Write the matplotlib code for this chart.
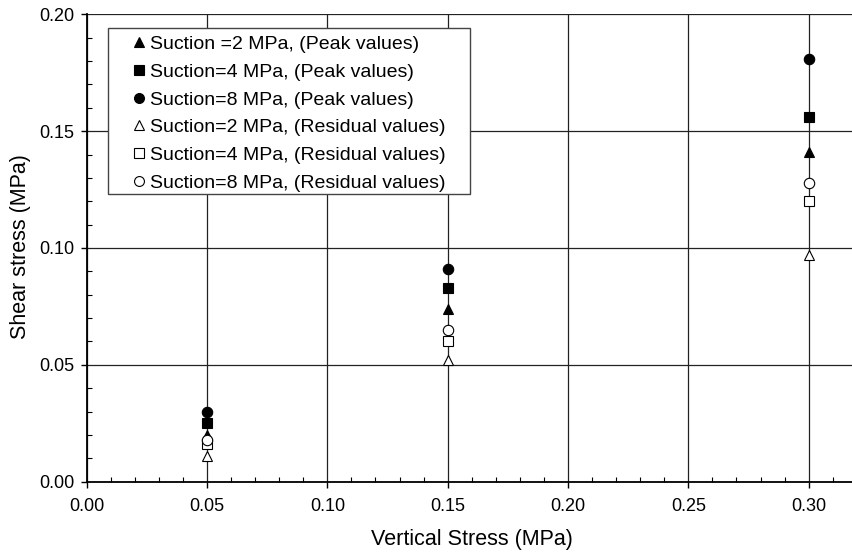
import matplotlib
matplotlib.use("Agg")
import matplotlib.pyplot as plt
from matplotlib.ticker import MultipleLocator, FormatStrFormatter
from matplotlib.patches import Rectangle

plt.rcParams['font.family'] = ['Liberation Sans', 'DejaVu Sans']

vertical_stress = [0.05, 0.15, 0.30]
peak_s2 = [0.020, 0.074, 0.141]
peak_s4 = [0.025, 0.083, 0.156]
peak_s8 = [0.030, 0.091, 0.181]
res_s2 = [0.011, 0.052, 0.097]
res_s4 = [0.016, 0.060, 0.120]
res_s8 = [0.018, 0.065, 0.128]

labels = [
    "Suction =2 MPa, (Peak values)",
    "Suction=4 MPa, (Peak values)",
    "Suction=8 MPa, (Peak values)",
    "Suction=2 MPa, (Residual values)",
    "Suction=4 MPa, (Residual values)",
    "Suction=8 MPa, (Residual values)",
]

W, H = 852, 554
fig = plt.figure(figsize=(W/100, H/100), dpi=100)
ax = fig.add_axes([86.7/W, 1-481.7/H, 1-86.7/W, (481.7-14.3)/H])

ax.set_xlim(0, 0.318)
ax.set_ylim(0, 0.20)

ax.grid(True, which='major', color='#222222', linewidth=0.9)
ax.set_axisbelow(True)

ms = 7.5
series = [
    (peak_s2, '^', 'black'),
    (peak_s4, 's', 'black'),
    (peak_s8, 'o', 'black'),
    (res_s2, '^', 'white'),
    (res_s4, 's', 'white'),
    (res_s8, 'o', 'white'),
]
for (vals, mk, fc), lab in zip(series, labels):
    ax.plot(vertical_stress, vals, linestyle='none', marker=mk, markersize=ms,
            markerfacecolor=fc, markeredgecolor='black', markeredgewidth=0.8,
            label=lab, zorder=3)

ax.xaxis.set_major_locator(MultipleLocator(0.05))
ax.xaxis.set_minor_locator(MultipleLocator(0.01))
ax.yaxis.set_major_locator(MultipleLocator(0.05))
ax.yaxis.set_minor_locator(MultipleLocator(0.01))
ax.xaxis.set_major_formatter(FormatStrFormatter('%.2f'))
ax.yaxis.set_major_formatter(FormatStrFormatter('%.2f'))

ax.tick_params(which='major', direction='out', length=4, width=1, labelsize=13, color='black')
ax.tick_params(axis='x', which='major', pad=8)
ax.tick_params(axis='y', which='major', pad=5)
ax.tick_params(which='minor', direction='in', length=3.5, width=0.8, color='black')

for s in ['top', 'right']:
    ax.spines[s].set_visible(False)
for s in ['left', 'bottom']:
    ax.spines[s].set_linewidth(1.3)
    ax.spines[s].set_color('black')

fig.text(472/W, 1-539/H, "Vertical Stress (MPa)", fontsize=15.5, ha='center', va='center')
fig.text(21/W, 1-247/H, "Shear stress (MPa)", fontsize=15.5, ha='center', va='center', rotation=90)

# legend frame drawn separately, inside the axes artist list
frame = Rectangle((107.9/W, 1-194/H), (470.4-107.9)/W, (194-27.7)/H,
                  transform=fig.transFigure, facecolor='white', edgecolor='#444444',
                  linewidth=1.0, zorder=4, clip_on=False)
ax.add_artist(frame)

leg = ax.legend(loc='upper left', bbox_to_anchor=(129.3/W, 1-35.5/H),
                bbox_transform=fig.transFigure, fontsize=14, frameon=False,
                handlelength=1.0, handletextpad=0.07, labelspacing=0.52,
                borderpad=0, borderaxespad=0, markerscale=0.95)
leg.set_zorder(5)

fig.savefig("out.png", dpi=100)
